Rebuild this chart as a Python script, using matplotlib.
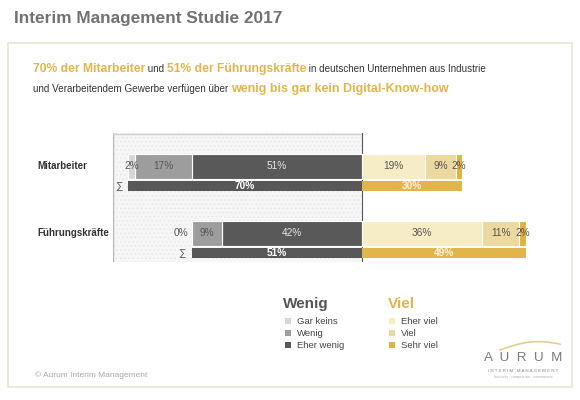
import numpy as np
import matplotlib.pyplot as plt
from matplotlib.patches import Rectangle

plt.rcParams['font.family'] = ['Liberation Sans', 'DejaVu Sans']

# data
groups = ['Mitarbeiter', 'Führungskräfte']
gar_keins = [2, 0]
wenig = [17, 9]
eher_wenig = [51, 42]
eher_viel = [19, 36]
viel = [9, 11]
sehr_viel = [2, 2]
sum_wenig = [70, 51]
sum_viel = [30, 49]

c_gar = '#d6d6d6'
c_wenig = '#9d9d9d'
c_eher_wenig = '#595959'
c_eher_viel = '#f6ecc6'
c_viel = '#ecd9a0'
c_sehr_viel = '#dfb23e'
gold = '#e2b54a'
dark = '#575757'

W, H = 580, 400
fig = plt.figure(figsize=(W / 100, H / 100), dpi=100)
fig.patch.set_facecolor('white')

def fx(px):
    return px / W

def fy(py):
    return 1 - py / H

# panel frame
fig.patches.append(Rectangle((fx(8), fy(387)), fx(564), 344 / H, transform=fig.transFigure,
                             facecolor='white', edgecolor='#e9e5d2', lw=1.2, zorder=-5))

fig.text(fx(14), fy(18), 'Interim Management Studie 2017', fontsize=12.4, fontweight='bold',
         color='#727272', va='center')

# subtitle with mixed styles
renderer = fig.canvas.get_renderer()

def rich_line(x, y, parts):
    cur = x
    for s, col, bold, size in parts:
        t = fig.text(fx(cur), fy(y), s, color=col, fontweight='bold' if bold else 'normal',
                     fontsize=size, va='baseline')
        cur += t.get_window_extent(renderer).width

rich_line(33, 72, [('70% der Mitarbeiter', gold, True, 8.7), (' und ', '#333333', False, 7.1),
                   ('51% der Führungskräfte', gold, True, 8.7),
                   (' in deutschen Unternehmen aus Industrie', '#333333', False, 7.1)])
rich_line(33, 92, [('und Verarbeitendem Gewerbe verfügen über ', '#333333', False, 7.1),
                   ('wenig bis gar kein Digital-Know-how', gold, True, 9.0)])

# bar axes
ax_l, ax_r, ax_t, ax_b = 113, 545, 133, 262
scale = 3.34
ax = fig.add_axes([fx(ax_l), fy(ax_b), fx(ax_r - ax_l), (ax_b - ax_t) / H])
ax.set_xlim((ax_l - 362) / scale, (ax_r - 362) / scale)
row = 67.0
ax.set_ylim((ax_b - 166) / row, (ax_t - 166) / row)
ax.axis('off')

# hatched "wenig" zone
plt.rcParams['hatch.linewidth'] = 0.5
ax.add_patch(Rectangle(((ax_l - 362) / scale, (ax_t - 166) / row), (362 - ax_l) / scale,
                       (ax_b - ax_t) / row, facecolor='#f6f6f6', edgecolor='#e6e6e6',
                       hatch='....', lw=0, zorder=0))
ax.plot([(ax_l - 362) / scale + 0.1] * 2, [(ax_t - 166) / row, (ax_b - 166) / row],
        color='#b5b5b5', lw=1, zorder=1)
ax.plot([(ax_l - 362) / scale, 0], [(ax_t - 166) / row + 0.01] * 2, color='#d0d0d0', lw=1, zorder=1)
ax.plot([0, 0], [(ax_t - 166) / row, (ax_b - 166) / row], color='#555555', lw=0.8, zorder=1)

y = np.arange(len(groups))
bh = 25 / row
sh = 10 / row
sy = y + 20 / row

def seg(left, width, color, txtcol, yy):
    ax.barh(yy, width, left=left, height=bh, color=color, edgecolor='white', lw=0.8, zorder=2)
    for i in range(len(yy)):
        if width[i] == 0:
            ax.text(left[i] - 1.0, yy[i], '%d%%' % width[i], ha='right', va='center',
                    fontsize=7.3, color='#555555', zorder=3)
        else:
            ax.text(left[i] + width[i] / 2, yy[i], '%d%%' % width[i], ha='center', va='center',
                    fontsize=7.3, color=txtcol, zorder=3)

ew = -np.array(eher_wenig, float)
w = ew - np.array(wenig)
g = w - np.array(gar_keins)
seg(ew, np.array(eher_wenig), c_eher_wenig, '#e6e6e6', y)
seg(w, np.array(wenig), c_wenig, '#555555', y)
seg(g, np.array(gar_keins), c_gar, '#555555', y)

ev = np.array(eher_viel, float)
v = ev + np.array(viel)
seg(np.zeros(2), ev, c_eher_viel, '#555555', y)
seg(ev, np.array(viel), c_viel, '#555555', y)
seg(v, np.array(sehr_viel), c_sehr_viel, '#555555', y)

sw = np.array(sum_wenig, float)
sv = np.array(sum_viel, float)
ax.barh(sy, -sw, height=sh, color=dark, zorder=2)
ax.barh(sy, sv, height=sh, color=gold, zorder=2)
for i in range(len(groups)):
    ax.text(-sw[i] / 2, sy[i], '%d%%' % sw[i], ha='center', va='center', fontsize=7.3,
            fontweight='bold', color='white', zorder=3)
    ax.text(sv[i] / 2, sy[i], '%d%%' % sv[i], ha='center', va='center', fontsize=7.3,
            fontweight='bold', color='#fbf3dc', zorder=3)
    ax.text(-sw[i] - 1.8, sy[i], '∑', ha='right', va='center', fontsize=7.5, color='#555555')
    ax.text((37 - 362) / scale, y[i], groups[i], ha='left', va='center', fontsize=7,
            fontweight='bold', color='#333333', clip_on=False)

# legend
fig.text(fx(283), fy(304), 'Wenig', fontsize=11, fontweight='bold', color='#555555', va='center')
fig.text(fx(388), fy(304), 'Viel', fontsize=11, fontweight='bold', color=gold, va='center')
leg_l = [('Gar keins', c_gar), ('Wenig', c_wenig), ('Eher wenig', c_eher_wenig)]
leg_r = [('Eher viel', c_eher_viel), ('Viel', c_viel), ('Sehr viel', c_sehr_viel)]
for k, (lab, col) in enumerate(leg_l):
    yy = 321 + k * 12
    fig.patches.append(Rectangle((fx(285), fy(yy + 3)), fx(6), 6 / H, transform=fig.transFigure,
                                 facecolor=col, lw=0))
    fig.text(fx(297), fy(yy), lab, fontsize=6.8, color='#444444', va='center')
for k, (lab, col) in enumerate(leg_r):
    yy = 321 + k * 12
    fig.patches.append(Rectangle((fx(389), fy(yy + 3)), fx(6), 6 / H, transform=fig.transFigure,
                                 facecolor=col, lw=0))
    fig.text(fx(401), fy(yy), lab, fontsize=6.8, color='#444444', va='center')

# logo
t = np.linspace(0, 1, 50)
fig.add_artist(plt.Line2D(fx(500 + 60 * t), fy(350 - 6 * np.sin(np.pi * t * 0.9) - 4 * t),
                          transform=fig.transFigure, color='#e6cf8c', lw=1.2))
fig.text(fx(523), fy(358), 'A  U  R  U  M', fontsize=9.6, color='#7a7a7a', ha='center', va='center')
fig.text(fx(523), fy(371), 'I N T E R I M   M A N A G E M E N T', fontsize=3.2, color='#8a8a8a',
         ha='center', va='center')
fig.text(fx(523), fy(377), 'business · competence · commitment', fontsize=2.5, color='#b0b0b0',
         ha='center', va='center')

fig.text(fx(35), fy(375), '© Aurum Interim Management', fontsize=6, color='#a8a8a8', va='center')

fig.savefig('out.png', dpi=100)
